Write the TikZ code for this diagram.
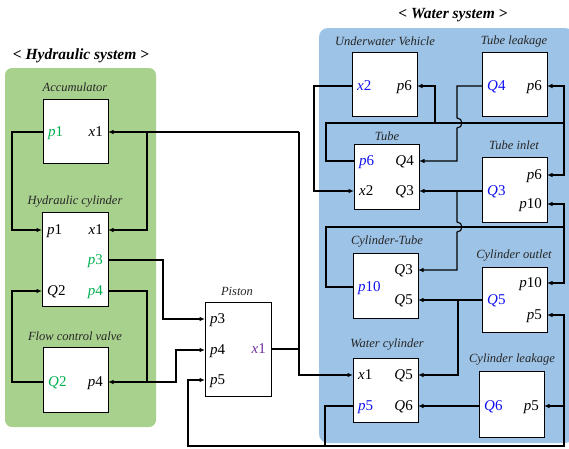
\documentclass[tikz,border=0pt]{standalone}
\usepackage{fontspec}
\setmainfont{Liberation Serif}
\usetikzlibrary{arrows.meta}
\definecolor{hgreen}{HTML}{A9D18E}
\definecolor{wblue}{HTML}{9DC3E6}
\definecolor{pgreen}{HTML}{00B050}
\definecolor{pblue}{HTML}{1010F0}
\definecolor{ppurple}{HTML}{7030A0}
\begin{document}
\begin{tikzpicture}[x=1pt,y=-1pt,
  blk/.style={draw, fill=white, line width=1.1pt, inner sep=0pt, anchor=north west, minimum width=65pt, minimum height=64pt},
  ttl/.style={font=\fontsize{12.5}{14}\selectfont\itshape, text=black!85, inner sep=0pt},
  hdr/.style={font=\fontsize{15.5}{18}\selectfont\bfseries\itshape, inner sep=0pt},
  pl/.style={font=\fontsize{15}{18}\selectfont, inner sep=0pt},
  pw/.style={pl, anchor=base west, xshift=5pt, yshift=-4.8pt},
  pe/.style={pl, anchor=base east, xshift=-5pt, yshift=-4.8pt},
  wire/.style={line width=1.1pt},
  arr/.style={wire, -{Latex[length=5.5pt,width=4.5pt]}}
]
\useasboundingbox (0,0) rectangle (569,448);
% panels
\fill[hgreen, rounded corners=7pt] (5,68) rectangle (156,427);
\fill[wblue, rounded corners=9pt] (319,28) rectangle (574,443);
\node[hdr] (hhdr) at (81,56) {< Hydraulic system >};
\node[hdr] (whdr) at (453,15) {< Water system >};

% ---------- hydraulic boxes
\node[blk] (acc) at (43,99) {};
\node[blk, minimum width=66pt, minimum height=94pt] (hc) at (42,212) {};
\node[blk, minimum height=65pt] (fcv) at (43,347) {};
\node[blk, minimum width=66pt, minimum height=94pt] (pis) at (205,302) {};
\node[ttl] (acct) at (75,87) {Accumulator};
\node[ttl] (hct) at (75,202) {Hydraulic cylinder};
\node[ttl] (fcvt) at (75,336) {Flow control valve};
\node[ttl] (pist) at (237,291) {Piston};

% ---------- water boxes
\node[blk] (uv) at (352,52) {};
\node[blk] (tl) at (482,52) {};
\node[blk, minimum height=65pt] (tube) at (354,144) {};
\node[blk, minimum height=65pt] (ti) at (482,157) {};
\node[blk, minimum height=65pt] (ct) at (353,253) {};
\node[blk, minimum height=65pt] (co) at (482,267) {};
\node[blk] (wc) at (353,358) {};
\node[blk, minimum height=66pt] (cl) at (479,371) {};
\node[ttl] (uvt) at (385,41) {Underwater Vehicle};
\node[ttl] (tlt) at (514,41) {Tube leakage};
\node[ttl] (tubet) at (387,136) {Tube};
\node[ttl] (tit) at (514,145) {Tube inlet};
\node[ttl] (ctt) at (387,242) {Cylinder-Tube};
\node[ttl] (cot) at (514,256) {Cylinder outlet};
\node[ttl] (wct) at (387,345) {Water cylinder};
\node[ttl] (clt) at (512,360) {Cylinder leakage};

% ---------- port coordinates
\coordinate (acc-p1) at (43,132);   \coordinate (acc-x1) at (108,132);
\coordinate (hc-p1) at (42,230);    \coordinate (hc-x1) at (108,230);
\coordinate (hc-p3) at (108,260);
\coordinate (hc-q2) at (42,291);    \coordinate (hc-p4) at (108,291);
\coordinate (fcv-q2) at (43,382);   \coordinate (fcv-p4) at (108,382);
\coordinate (pis-p3) at (205,319);  \coordinate (pis-p4) at (205,350);
\coordinate (pis-p5) at (205,380);  \coordinate (pis-x1) at (271,349);
\coordinate (uv-x2) at (352,86);    \coordinate (uv-p6) at (417,86);
\coordinate (tl-q4) at (482,86);    \coordinate (tl-p6) at (547,86);
\coordinate (tube-p6) at (354,161); \coordinate (tube-q4) at (419,161);
\coordinate (tube-x2) at (354,191); \coordinate (tube-q3) at (419,191);
\coordinate (ti-p6) at (547,175);   \coordinate (ti-p10) at (547,204);
\coordinate (ti-q3) at (482,191);
\coordinate (ct-q3) at (418,270);   \coordinate (ct-q5) at (418,300);
\coordinate (ct-p10) at (353,287);
\coordinate (co-p10) at (547,283);  \coordinate (co-p5) at (547,315);
\coordinate (co-q5) at (482,300);
\coordinate (wc-x1) at (353,375);   \coordinate (wc-q5) at (418,375);
\coordinate (wc-p5) at (353,406);   \coordinate (wc-q6) at (418,406);
\coordinate (cl-q6) at (479,406);   \coordinate (cl-p5) at (544,406);

% ---------- port labels
\node[pw, text=pgreen] (l1) at (acc-p1) {\textit{p}1};
\node[pe] (l2) at (acc-x1) {\textit{x}1};
\node[pw] (l3) at (hc-p1) {\textit{p}1};
\node[pe] (l4) at (hc-x1) {\textit{x}1};
\node[pe, text=pgreen] (l5) at (hc-p3) {\textit{p}3};
\node[pw] (l6) at (hc-q2) {\textit{Q}2};
\node[pe, text=pgreen] (l7) at (hc-p4) {\textit{p}4};
\node[pw, text=pgreen] (l8) at (fcv-q2) {\textit{Q}2};
\node[pe] (l9) at (fcv-p4) {\textit{p}4};
\node[pw] (l10) at (pis-p3) {\textit{p}3};
\node[pw] (l11) at (pis-p4) {\textit{p}4};
\node[pw] (l12) at (pis-p5) {\textit{p}5};
\node[pe, text=ppurple] (l13) at (pis-x1) {\textit{x}1};
\node[pw, text=pblue] (l14) at (uv-x2) {\textit{x}2};
\node[pe] (l15) at (uv-p6) {\textit{p}6};
\node[pw, text=pblue] (l16) at (tl-q4) {\textit{Q}4};
\node[pe] (l17) at (tl-p6) {\textit{p}6};
\node[pw, text=pblue] (l18) at (tube-p6) {\textit{p}6};
\node[pe] (l19) at (tube-q4) {\textit{Q}4};
\node[pw] (l20) at (tube-x2) {\textit{x}2};
\node[pe] (l21) at (tube-q3) {\textit{Q}3};
\node[pe] (l22) at (ti-p6) {\textit{p}6};
\node[pe] (l23) at (ti-p10) {\textit{p}10};
\node[pw, text=pblue] (l24) at (ti-q3) {\textit{Q}3};
\node[pe] (l25) at (ct-q3) {\textit{Q}3};
\node[pe] (l26) at (ct-q5) {\textit{Q}5};
\node[pw, text=pblue] (l27) at (ct-p10) {\textit{p}10};
\node[pe] (l28) at (co-p10) {\textit{p}10};
\node[pe] (l29) at (co-p5) {\textit{p}5};
\node[pw, text=pblue] (l30) at (co-q5) {\textit{Q}5};
\node[pw] (l31) at (wc-x1) {\textit{x}1};
\node[pe] (l32) at (wc-q5) {\textit{Q}5};
\node[pw, text=pblue] (l33) at (wc-p5) {\textit{p}5};
\node[pe] (l34) at (wc-q6) {\textit{Q}6};
\node[pw, text=pblue] (l35) at (cl-q6) {\textit{Q}6};
\node[pe] (l36) at (cl-p5) {\textit{p}5};

% ---------- hydraulic wires
\draw[arr] (acc-p1) -- (12,132) -- (12,230) -- (hc-p1);
\draw[wire] (pis-x1) -- (299,349) -- (299,132);
\draw[arr] (299,132) -- (acc-x1);
\draw[arr] (147,132) -- (147,230) -- (hc-x1);
\draw[arr] (299,349) -- (299,375) -- (wc-x1);
\draw[arr] (hc-p3) -- (163,260) -- (163,319) -- (pis-p3);
\draw[arr] (hc-p4) -- (147,291) -- (147,382) -- (fcv-p4);
\draw[arr] (147,382) -- (176,382) -- (176,350) -- (pis-p4);
\draw[arr] (fcv-q2) -- (12,382) -- (12,291) -- (hc-q2);
\draw[arr] (wc-p5) -- (325,406) -- (325,446) -- (188,446) -- (188,380) -- (pis-p5);
\draw[arr] (325,446) -- (564,446) -- (564,406) -- (cl-p5);
\draw[arr] (564,406) -- (564,315) -- (co-p5);

% ---------- water wires
\draw[arr] (uv-x2) -- (314,86) -- (314,191) -- (tube-x2);
\draw[wire] (tube-p6) -- (326,161) -- (326,123) -- (564,123);
\draw[arr] (564,123) -- (564,86) -- (tl-p6);
\draw[arr] (564,123) -- (564,175) -- (ti-p6);
\draw[arr] (435,123) -- (435,86) -- (uv-p6);
\draw[arr] (tl-q4) -- (457,86) -- (457,118) arc[start angle=90, end angle=-90, radius=5pt] -- (457,161) -- (tube-q4);
\draw[arr] (ti-q3) -- (tube-q3);
\draw[arr] (457,191) -- (457,222) arc[start angle=90, end angle=-90, radius=5pt] -- (457,270) -- (ct-q3);
\draw[wire] (ct-p10) -- (326,287) -- (326,227) -- (564,227);
\draw[arr] (564,227) -- (564,204) -- (ti-p10);
\draw[arr] (564,227) -- (564,283) -- (co-p10);
\draw[arr] (co-q5) -- (ct-q5);
\draw[arr] (458,300) -- (458,375) -- (wc-q5);
\draw[arr] (cl-q6) -- (wc-q6);
\end{tikzpicture}
\end{document}
